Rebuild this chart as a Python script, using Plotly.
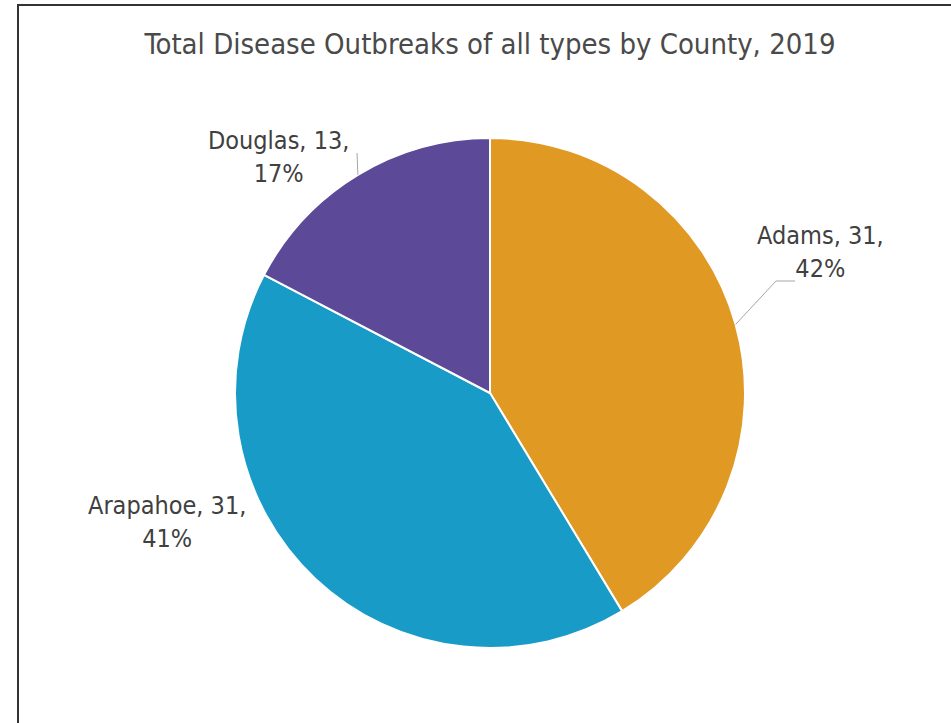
import math
import plotly.graph_objects as go

# ---- data ----
counties = ["Adams", "Arapahoe", "Douglas"]
outbreaks = [31, 31, 13]
pct_labels = ["42%", "41%", "17%"]
colors = ["#E09A24", "#189BC7", "#5C4A99"]

W, H = 951, 723
CX, CY, R = 490, 393, 255  # pie centre / radius in pixels
FONT = "DejaVu Sans Condensed, DejaVu Sans"

fig = go.Figure(go.Pie(
    labels=counties,
    values=outbreaks,
    sort=False,
    direction="clockwise",
    rotation=0,
    marker=dict(colors=colors, line=dict(color="white", width=2)),
    textinfo="none",
    hoverinfo="label+value",
    showlegend=False,
    domain=dict(x=[(CX - R) / W, (CX + R) / W], y=[(H - CY - R) / H, (H - CY + R) / H]),
))

# label anchor positions (pixels) and leader lines
label_pos = {"Adams": (820, 252), "Arapahoe": (167, 522), "Douglas": (278, 157)}
total = sum(outbreaks)
cum = 0
shapes = []
annotations = []
for name, v, p in zip(counties, outbreaks, pct_labels):
    mid = (cum + v / 2) / total * 2 * math.pi
    cum += v
    ex = CX + R * math.sin(mid)
    ey = CY - R * math.cos(mid)
    lx, ly = label_pos[name]
    annotations.append(dict(
        x=lx / W, y=1 - ly / H, xref="paper", yref="paper",
        text=f"{name}, {v},<br>{p}", showarrow=False,
        font=dict(family=FONT, size=25, color="#404040"),
        align="center", xanchor="center", yanchor="middle",
    ))
    if name == "Adams":
        pts = [(ex, ey), (776, 281), (795, 281)]
    elif name == "Douglas":
        pts = [(ex, ey), (357, 153)]
    else:
        pts = []
    if pts:
        path = "M " + " L ".join(f"{x / W},{1 - y / H}" for x, y in pts)
        shapes.append(dict(type="path", path=path, xref="paper", yref="paper",
                           line=dict(color="#A6A6A6", width=1)))

# outer frame
shapes.append(dict(type="rect", xref="paper", yref="paper",
                   x0=18 / W, x1=1.05, y0=-0.05, y1=1 - 5 / H,
                   line=dict(color="#333333", width=2), fillcolor="rgba(0,0,0,0)"))

fig.update_layout(
    width=W, height=H,
    margin=dict(l=0, r=0, t=0, b=0),
    paper_bgcolor="white", plot_bgcolor="white",
    title=dict(text="Total Disease Outbreaks of all types by County, 2019",
               x=CX / W, xanchor="center", xref="paper",
               y=1 - 44 / H, yanchor="middle",
               font=dict(family=FONT, size=29, color="#4A4A4A")),
    shapes=shapes,
    annotations=annotations,
)

fig.write_html("out.html")
